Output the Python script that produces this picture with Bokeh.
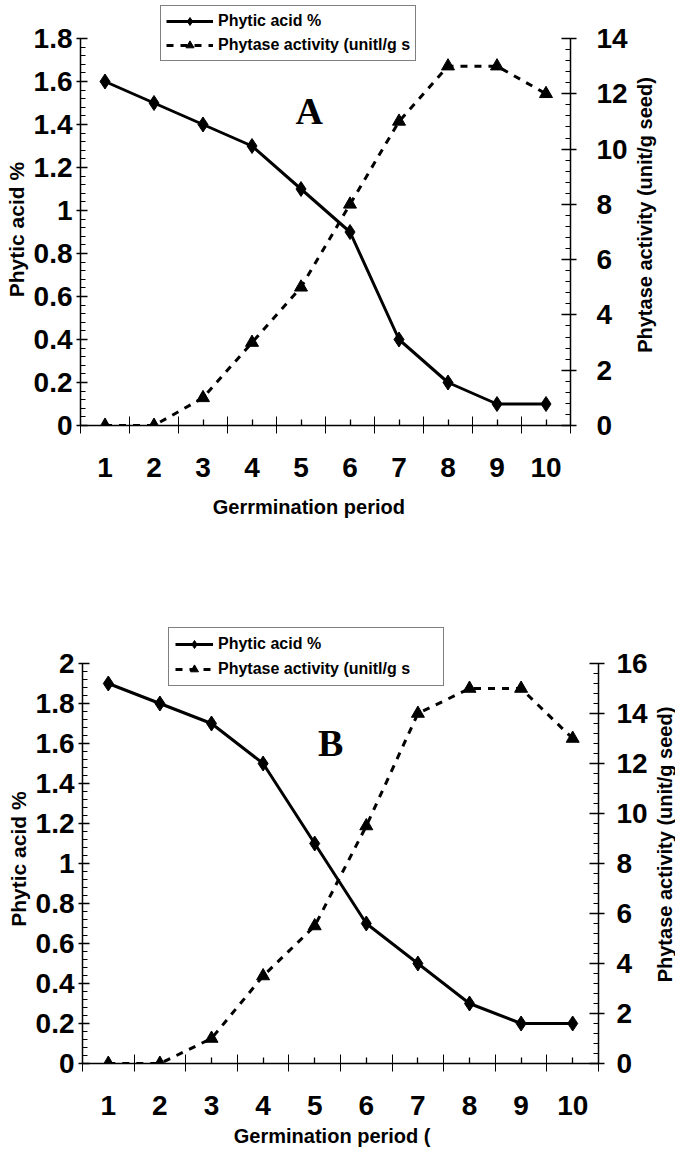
from bokeh.plotting import figure
from bokeh.models import (Range1d, LinearAxis, FixedTicker, SingleIntervalTicker,
                          NumeralTickFormatter, Legend, LegendItem, Label)
from bokeh.layouts import row
from bokeh.embed import file_html
from bokeh.resources import INLINE

# ---------------- data ----------------
period = [1, 2, 3, 4, 5, 6, 7, 8, 9, 10]
phytic_a = [1.6, 1.5, 1.4, 1.3, 1.1, 0.9, 0.4, 0.2, 0.1, 0.1]
phytase_a = [0, 0, 1, 3, 5, 8, 11, 13, 13, 12]
phytic_b = [1.9, 1.8, 1.7, 1.5, 1.1, 0.7, 0.5, 0.3, 0.2, 0.2]
phytase_b = [0, 0, 1, 3.5, 5.5, 9.5, 14, 15, 15, 13]
legend_labels = ["Phytic acid %", "Phytase activity (unitl/g s"]
x_titles = ["Gerrmination period", "Germination period ("]
y_title = "Phytic acid %"
y2_title = "Phytase activity (unit/g seed)"
panel_letters = ["A", "B"]

FONT = "Liberation Sans"
NBSP = "\u00a0"


def style_axis(ax, label_size="28px", title_size="20px"):
    ax.axis_line_color = "black"
    ax.axis_line_width = 1.5
    ax.major_tick_line_color = "black"
    ax.minor_tick_line_color = "black"
    ax.major_tick_line_width = 1.3
    ax.minor_tick_line_width = 1
    ax.major_label_text_font = FONT
    ax.major_label_text_font_style = "bold"
    ax.major_label_text_font_size = label_size
    ax.major_label_text_color = "black"
    ax.axis_label_text_font = FONT
    ax.axis_label_text_font_style = "bold"
    ax.axis_label_text_font_size = title_size
    ax.axis_label_text_color = "black"


def panel(phytic, phytase, ymax, y2max, ext, xtitle, letter, letter_xy, width,
          height, borders, legend_xy, legend_pad, legend_spacing, legend_glyph_w,
          legend_label_w, xtitle_standoff, right_label_standoff, x_pad, y_pad):
    top, bottom, left, right = borders
    p = figure(width=width, height=height, x_range=Range1d(0.5, 10.5),
               y_range=Range1d(0, ymax * ext), output_backend="svg",
               toolbar_location=None, min_border_top=top,
               min_border_bottom=bottom, min_border_left=left,
               min_border_right=right)
    p.grid.visible = False
    p.outline_line_color = None
    p.background_fill_color = "white"
    p.border_fill_color = "white"

    # x axis
    xa = p.below[0]
    style_axis(xa)
    xa.ticker = FixedTicker(ticks=period, minor_ticks=[i + 0.5 for i in range(11)])
    xa.major_tick_in = 6
    xa.major_tick_out = 0
    xa.minor_tick_in = 9
    xa.minor_tick_out = 8
    xa.major_label_standoff = 24
    xa.axis_label = xtitle + NBSP * x_pad
    xa.axis_label_standoff = xtitle_standoff

    # left y axis
    ya = p.left[0]
    style_axis(ya, title_size="21px")
    ya.bounds = (0, ymax)
    ya.ticker = SingleIntervalTicker(interval=0.2, num_minor_ticks=5)
    ya.formatter = NumeralTickFormatter(format="0.[0]")
    ya.major_tick_in = 7
    ya.major_tick_out = 4
    ya.minor_tick_in = 5
    ya.minor_tick_out = 0
    ya.major_label_standoff = 4
    ya.axis_label = y_title + NBSP * y_pad
    ya.axis_label_standoff = 3

    # right y axis (ticks + labels)
    p.extra_y_ranges = {"right": Range1d(0, y2max * ext)}
    ya2 = LinearAxis(y_range_name="right", bounds=(0, y2max),
                     ticker=SingleIntervalTicker(interval=2, num_minor_ticks=5))
    style_axis(ya2)
    ya2.major_tick_in = 9
    ya2.major_tick_out = 6
    ya2.minor_tick_in = 5
    ya2.minor_tick_out = 0
    ya2.major_label_standoff = right_label_standoff
    p.add_layout(ya2, "right")

    r1 = p.line(period, phytic, line_width=3, color="black")
    r2 = p.scatter(period, phytic, marker="diamond", size=15, color="black")
    r3 = p.line(period, phytase, y_range_name="right", line_width=3,
                line_dash="7 7", color="black")
    r4 = p.scatter(period, phytase, y_range_name="right", marker="triangle",
                   size=13, color="black")

    legend = Legend(items=[LegendItem(label=legend_labels[0], renderers=[r1, r2]),
                           LegendItem(label=legend_labels[1], renderers=[r3, r4])],
                    location=legend_xy, margin=0, padding=legend_pad,
                    spacing=legend_spacing, glyph_width=legend_glyph_w,
                    glyph_height=20, label_height=20, label_standoff=5,
                    label_width=legend_label_w,
                    label_text_font=FONT, label_text_font_style="bold",
                    label_text_font_size="16px", label_text_color="black",
                    border_line_color="black", border_line_width=1.2,
                    background_fill_color="white", background_fill_alpha=1)
    p.add_layout(legend)

    p.add_layout(Label(x=letter_xy[0], y=letter_xy[1], text=letter,
                       text_font="Liberation Serif", text_font_style="bold",
                       text_font_size="38px", text_align="center",
                       text_baseline="middle", text_color="black"))
    return p


def right_title(width, height, top, bottom):
    # narrow strip that carries the right-hand axis title (bottom-to-top)
    t = figure(width=width, height=height, x_range=Range1d(0, 1),
               y_range=Range1d(0, 1), x_axis_location=None,
               output_backend="svg", toolbar_location=None,
               min_border_top=top, min_border_bottom=bottom,
               min_border_left=22, min_border_right=0)
    t.grid.visible = False
    t.outline_line_color = None
    ax = t.left[0]
    style_axis(ax)
    ax.ticker = FixedTicker(ticks=[])
    ax.axis_line_color = None
    ax.major_tick_line_color = None
    ax.minor_tick_line_color = None
    ax.major_tick_in = 0
    ax.major_tick_out = 0
    ax.minor_tick_in = 0
    ax.minor_tick_out = 0
    ax.major_label_standoff = 0
    ax.axis_label = y2_title
    ax.axis_label_standoff = 0
    return t


# A: frame 4..425 (1.8 at 38), B: frame 625..1063 (2 at 663)
extA = (425 - 4) / (425 - 38)
extB = (1063 - 625) / (1063 - 663)
pA = panel(phytic_a, phytase_a, 1.8, 14, extA, x_titles[0], panel_letters[0],
           (5.17, 1.465), 630, 568, (4, 143, 80, 58), (80, 364), 5, 4, 47, 190,
           16, 20, 6, 5)
tA = right_title(675 - 630, 568, 4, 143)
pB = panel(phytic_b, phytase_b, 2.0, 16, extB, x_titles[1], panel_letters[1],
           (5.31, 1.605), 650, 584, (57, 89, 82, 50), (86, 377), 6, 5, 38, 219,
           7, 12, 3, 5)
tB = right_title(675 - 650, 584, 57, 89)

open("out.html", "w").write(file_html([row(pA, tA), row(pB, tB)], INLINE))
